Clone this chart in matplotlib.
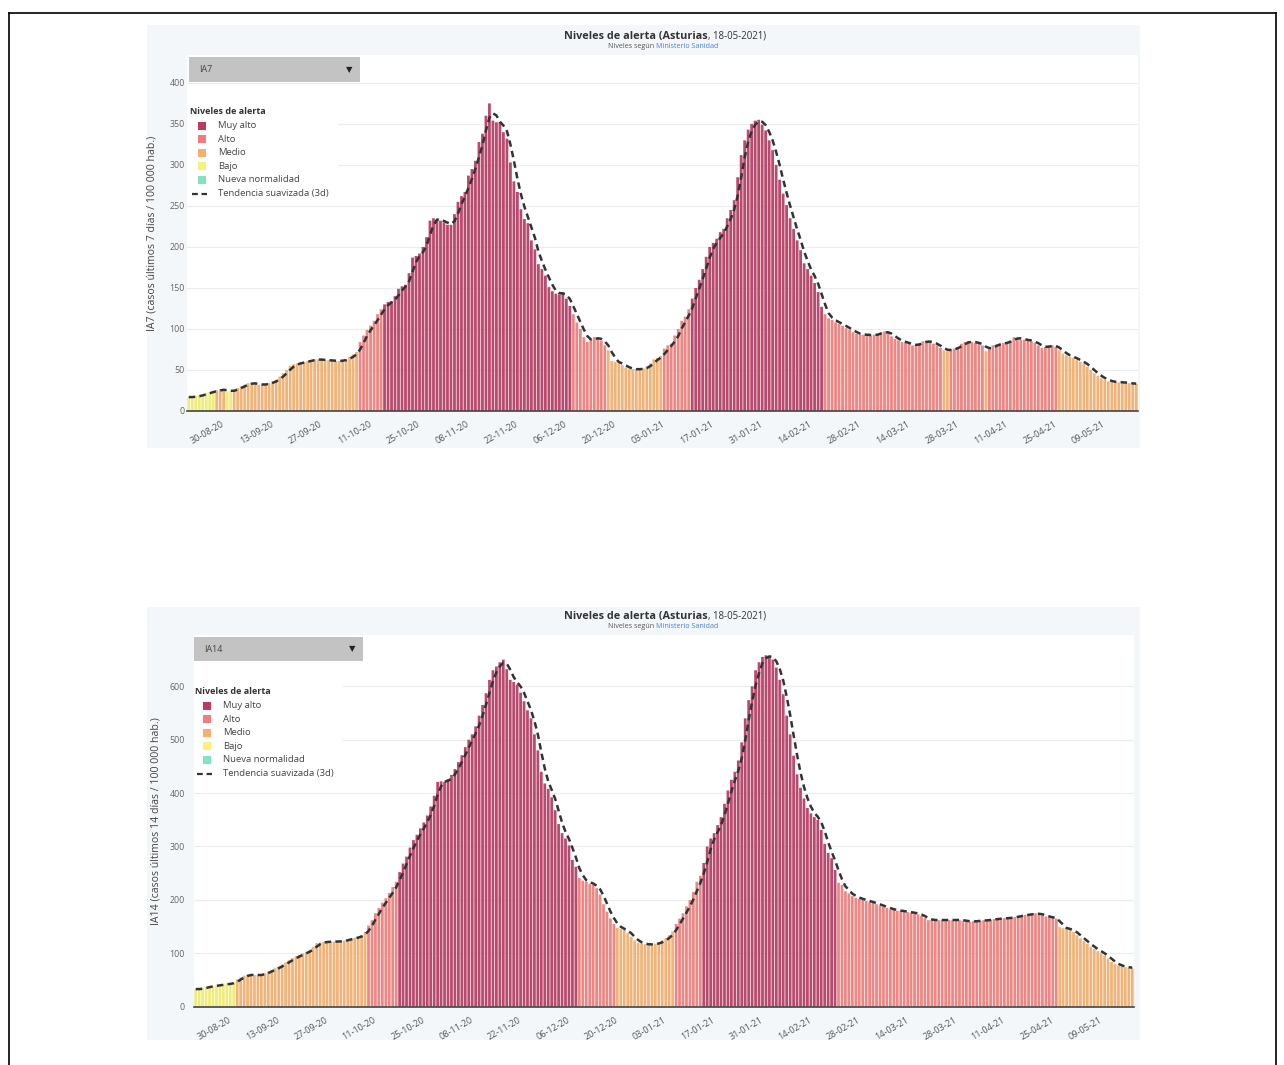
import numpy as np
import pandas as pd
import matplotlib
matplotlib.use("Agg")
import matplotlib.pyplot as plt
import matplotlib.dates as mdates
from matplotlib.patches import Rectangle
from matplotlib.lines import Line2D

plt.rcParams['font.family'] = ['Open Sans', 'DejaVu Sans']

# ---- datos ----
fechas = pd.date_range('2020-08-20', '2021-05-18', freq='D')

ia7 = [17, 17, 18, 19, 20, 22, 23, 24, 25.5, 26,
       26, 24, 24, 26, 28, 30, 32, 34, 34, 33,
       32, 32, 33, 34, 36, 38, 42, 46, 50, 55,
       57, 58, 59, 60, 61, 62, 63, 63, 62, 62,
       62, 61, 61, 61, 62, 63, 66, 69, 72, 84,
       92, 99, 104, 110, 118, 124, 130, 133, 134, 140,
       149, 152, 154, 168, 187, 189, 192, 200, 212, 232,
       235, 233, 232, 230, 227, 227, 240, 255, 262, 267,
       287, 295, 305, 328, 338, 360, 375, 354, 352, 352,
       340, 332, 303, 280, 267, 246, 234, 229, 208, 197,
       179, 173, 165, 151, 146, 143, 142, 145, 137, 128,
       118, 108, 100, 90, 84, 88, 90, 88, 86, 80,
       74, 61, 60, 58, 56, 53, 51, 51, 51, 51,
       52, 54, 58, 63, 65, 67, 76, 80, 82, 92,
       100, 110, 115, 124, 137, 150, 160, 173, 188, 200,
       205, 210, 218, 222, 235, 245, 257, 285, 312, 330,
       343, 350, 354, 355, 349, 342, 330, 318, 300, 282,
       265, 251, 235, 222, 208, 196, 180, 173, 165, 156,
       145, 127, 118, 113, 111, 108, 106, 104, 101, 99,
       96, 94, 93, 93, 93, 92, 93, 94, 96, 97,
       95, 91, 88, 86, 84, 83, 82, 80, 80, 83,
       85, 85, 84, 82, 80, 77, 74, 73, 76, 76,
       78, 82, 84, 85, 84, 83, 82, 80, 73, 77,
       80, 81, 82, 83, 84, 86, 90, 89, 87, 87,
       86, 85, 83, 80, 77, 78, 80, 80, 78, 74,
       70, 68, 66, 65, 62, 60, 58, 54, 50, 46,
       43, 40, 38, 36, 36, 35, 35, 35, 34, 34,
       33, 33]

ia14 = [33, 33, 35, 37, 38, 39, 40, 41, 42, 43,
        43, 46, 51, 55, 58, 60, 60, 59, 59, 60,
        63, 66, 69, 72, 75, 79, 83, 87, 91, 94,
        97, 100, 103, 106, 112, 119, 120, 121, 122, 122,
        122, 122, 123, 124, 126, 128, 129, 131, 134, 140,
        152, 162, 175, 185, 195, 203, 213, 224, 234, 252,
        268, 281, 298, 312, 322, 334, 345, 358, 375, 395,
        421, 422, 421, 426, 434, 445, 458, 471, 486, 500,
        510, 525, 545, 565, 587, 612, 630, 637, 645, 650,
        632, 612, 608, 603, 588, 572, 555, 540, 510, 480,
        440, 418, 408, 392, 368, 342, 325, 315, 302, 275,
        262, 241, 236, 234, 230, 228, 222, 210, 192, 178,
        165, 155, 148, 146, 144, 138, 131, 124, 120, 118,
        117, 116, 117, 118, 120, 124, 128, 134, 141, 155,
        165, 175, 188, 200, 215, 234, 245, 269, 300, 315,
        325, 340, 355, 380, 405, 425, 440, 461, 495, 540,
        574, 600, 630, 645, 655, 658, 655, 650, 635, 612,
        585, 545, 510, 470, 435, 410, 390, 372, 362, 355,
        350, 331, 305, 288, 278, 256, 232, 228, 216, 212,
        207, 204, 202, 200, 198, 196, 194, 192, 189, 187,
        185, 182, 181, 180, 179, 178, 177, 176, 175, 173,
        170, 166, 162, 162, 163, 162, 162, 163, 162, 162,
        163, 162, 161, 160, 159, 160, 161, 161, 162, 162,
        163, 164, 165, 165, 166, 166, 167, 168, 170, 171,
        172, 173, 174, 175, 173, 171, 169, 167, 166, 165,
        149, 147, 146, 144, 140, 134, 128, 123, 118, 112,
        108, 104, 100, 96, 90, 84, 80, 77, 75, 74,
        73, 72]

niveles = ['Muy alto', 'Alto', 'Medio', 'Bajo', 'Nueva normalidad']
colores_leyenda = ['#c03a5f', '#f27b7b', '#f8ae6c', '#f8f27a', '#80e4c2']
colores_barras = ['#b84a6e', '#ea8885', '#efb47a', '#eeec7c', '#86dfc0']
umbrales_ia7 = [125, 75, 25, 10]
umbrales_ia14 = [250, 150, 50, 25]
ticks_fechas = pd.date_range('2020-08-30', '2021-05-09', freq='14D')

W, H = 1284, 1065
fig = plt.figure(figsize=(W / 100, H / 100), dpi=100)


def fx(x):
    return x / W


def fy(y):
    return 1 - y / H


def nivel(v, umbrales):
    for k, u in enumerate(umbrales):
        if v >= u:
            return k
    return 4


def panel(valores, umbrales, caja, fondo, ylim, yticks, ylabel, etiqueta,
          y_titulo, desplegable, leyenda, ylab_x, ypad):
    # fondo del panel
    fig.add_artist(Rectangle((fx(fondo[0]), fy(fondo[3])), (fondo[2] - fondo[0]) / W,
                             (fondo[3] - fondo[1]) / H, transform=fig.transFigure,
                             facecolor='#f4f7fa', edgecolor='none', zorder=-5))
    l, t, r, b = caja
    ax = fig.add_axes([fx(l), fy(b), (r - l) / W, (b - t) / H])
    ax.set_facecolor('white')

    x = mdates.date2num(fechas)
    cols = [colores_barras[nivel(v, umbrales)] for v in valores]
    ax.bar(x, valores, width=0.8, color=cols, linewidth=0, zorder=2, snap=False)
    tendencia = pd.Series(valores).rolling(3, min_periods=1).mean()
    ax.plot(x, tendencia, color='#333333', lw=1.8, dashes=(2.6, 1.7), zorder=3)

    ax.set_xlim(x[0] - 0.5, x[-1] + 0.5)
    ax.set_ylim(*ylim)
    ax.set_yticks(yticks)
    ax.set_xticks(mdates.date2num(ticks_fechas))
    ax.set_xticklabels([d.strftime('%d-%m-%y') for d in ticks_fechas],
                       rotation=30, ha='right', va='center', rotation_mode='anchor')
    ax.tick_params(axis='x', length=0, pad=9, labelsize=6.5, labelcolor='#555555')
    ax.tick_params(axis='y', length=0, pad=ypad, labelsize=6.4, labelcolor='#666666')
    ax.grid(axis='y', color='#ececec', lw=0.8, zorder=0)
    ax.set_axisbelow(True)
    for s in ['top', 'right', 'left']:
        ax.spines[s].set_visible(False)
    ax.spines['bottom'].set_color('#444444')
    ax.spines['bottom'].set_linewidth(1.2)
    ax.spines['bottom'].set_zorder(4)
    ax.set_ylabel(ylabel, fontsize=7.6, color='#444444')
    ax.yaxis.set_label_coords((ylab_x - l) / (r - l), 0.5)

    # título
    fig.text(fx(708), fy(y_titulo), 'Niveles de alerta (Asturias', ha='right', va='center',
             fontsize=7.8, fontweight='bold', color='#333333')
    fig.text(fx(708), fy(y_titulo), ', 18-05-2021)', ha='left', va='center',
             fontsize=6.9, color='#333333')
    fig.text(fx(654), fy(y_titulo + 10), 'Niveles según', ha='right', va='center',
             fontsize=5.1, color='#555555')
    fig.text(fx(656), fy(y_titulo + 10), 'Ministerio Sanidad', ha='left', va='center',
             fontsize=5.1, color='#4a7fd6')

    # desplegable
    dx0, dy0, dx1, dy1 = desplegable
    fig.add_artist(Rectangle((fx(dx0), fy(dy1)), (dx1 - dx0) / W, (dy1 - dy0) / H,
                             transform=fig.transFigure, facecolor='#c3c3c3',
                             edgecolor='none', zorder=5))
    fig.text(fx(dx0 + 10), fy((dy0 + dy1) / 2), etiqueta, ha='left', va='center',
             fontsize=6.4, color='#444444', zorder=6)
    fig.text(fx(dx1 - 8), fy((dy0 + dy1) / 2), '▼', ha='right', va='center',
             fontsize=6, color='#222222', family='DejaVu Sans', zorder=6)

    # leyenda
    lx, ly = leyenda
    fig.add_artist(Rectangle((fx(l), fy(ly + 90)), (lx + 148 - l) / W, 102 / H,
                             transform=fig.transFigure, facecolor='white',
                             edgecolor='none', zorder=1))
    fig.text(fx(lx), fy(ly), 'Niveles de alerta', ha='left', va='center',
             fontsize=6.5, fontweight='bold', color='#333333', zorder=6)
    for k, nombre in enumerate(niveles):
        yy = ly + 13.6 * (k + 1)
        fig.add_artist(Rectangle((fx(lx + 8), fy(yy + 4)), 8 / W, 8 / H,
                                 transform=fig.transFigure,
                                 facecolor=colores_leyenda[k], edgecolor='none', zorder=6))
        fig.text(fx(lx + 28), fy(yy), nombre, ha='left', va='center',
                 fontsize=6.8, color='#444444', zorder=6)
    yy = ly + 13.6 * 6
    fig.add_artist(Line2D([fx(lx + 2), fx(lx + 17)], [fy(yy), fy(yy)],
                          transform=fig.transFigure, color='#333333', lw=1.6,
                          dashes=(2.6, 1.7), zorder=6))
    fig.text(fx(lx + 28), fy(yy), 'Tendencia suavizada (3d)', ha='left', va='center',
             fontsize=6.8, color='#444444', zorder=6)
    return ax


panel(ia7, umbrales_ia7, (187, 55, 1138, 411), (147, 25, 1140, 448), (0, 434),
      range(0, 401, 50), 'IA7 (casos últimos 7 días / 100 000 hab.)', 'IA7',
      36, (189, 57, 360, 82), (190, 112), 158, 1.5)

panel(ia14, umbrales_ia14, (194, 635, 1134, 1006.7), (147, 607, 1140, 1040), (0, 696),
      range(0, 601, 100), 'IA14 (casos últimos 14 días / 100 000 hab.)', 'IA14',
      616, (194, 637, 363, 661), (195, 692), 162, 6.5)

# marco exterior
for xs, ys in [((9, 9), (13, 1065)), ((9, 1276), (13, 13)), ((1276, 1276), (13, 1065))]:
    fig.add_artist(Line2D([fx(xs[0]), fx(xs[1])], [fy(ys[0]), fy(ys[1])],
                          transform=fig.transFigure, color='black', lw=1.2))

fig.savefig('out.png', dpi=100)
